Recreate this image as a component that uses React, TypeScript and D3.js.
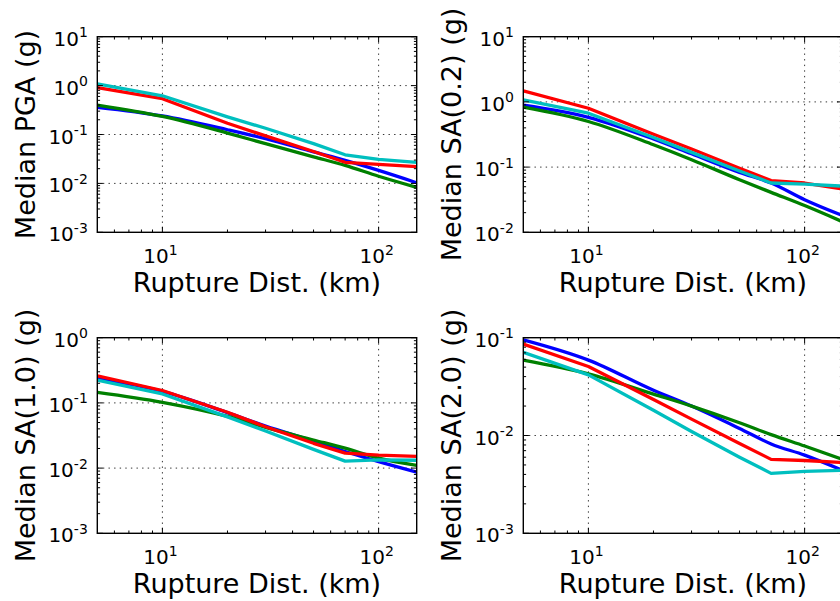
import React from "react";
import * as d3 from "d3";

// Rupture distances (km) at which the medians were read
const DIST = [5, 10, 20, 30, 50, 70, 100, 150];

// Median PGA (g)
const pgaBlue = [0.36, 0.24, 0.125, 0.082, 0.044, 0.0295, 0.0184, 0.0103];
const pgaGreen = [0.4, 0.234, 0.107, 0.065, 0.035, 0.0234, 0.014, 0.0083];
const pgaRed = [0.91, 0.54, 0.17, 0.094, 0.045, 0.027, 0.0245, 0.022];
const pgaCyan = [1.08, 0.62, 0.23, 0.134, 0.065, 0.0385, 0.031, 0.027];

// Median SA(0.2) (g)
const sa02Blue = [0.89, 0.58, 0.27, 0.16, 0.083, 0.057, 0.0316, 0.018];
const sa02Green = [0.83, 0.5, 0.22, 0.13, 0.064, 0.041, 0.0257, 0.0145];
const sa02Red = [1.48, 0.8, 0.32, 0.19, 0.096, 0.062, 0.057, 0.046];
const sa02Cyan = [1.07, 0.67, 0.285, 0.168, 0.087, 0.057, 0.055, 0.051];

// Median SA(1.0) (g)
const sa10Blue = [0.24, 0.15, 0.071, 0.044, 0.026, 0.018, 0.0126, 0.0087];
const sa10Green = [0.145, 0.102, 0.062, 0.042, 0.027, 0.0202, 0.0142, 0.011];
const sa10Red = [0.26, 0.155, 0.072, 0.043, 0.024, 0.017, 0.0158, 0.0151];
const sa10Cyan = [0.224, 0.137, 0.061, 0.037, 0.0194, 0.0128, 0.0134, 0.0132];

// Median SA(2.0) (g)
const sa20Blue = [0.095, 0.059, 0.029, 0.02, 0.0118, 0.0082, 0.0063, 0.0044];
const sa20Green = [0.059, 0.0427, 0.0265, 0.02, 0.0135, 0.0102, 0.0078, 0.0057];
const sa20Red = [0.086, 0.0507, 0.0233, 0.0147, 0.0083, 0.0057, 0.00555, 0.0053];
const sa20Cyan = [0.071, 0.0417, 0.0181, 0.011, 0.006, 0.0041, 0.0043, 0.0044];

const Y_LABELS = ["Median PGA (g)", "Median SA(0.2) (g)", "Median SA(1.0) (g)", "Median SA(2.0) (g)"];
const X_LABEL = "Rupture Dist. (km)";
const Y_DOMAINS = [
  [1e-3, 1e1],
  [1e-2, 1e1],
  [1e-3, 1e0],
  [1e-3, 1e-1],
];
const X_DOMAIN = [5, 150];
const COLORS = ["#0000ff", "#008000", "#ff0000", "#00bfbf"];
const SMOOTH = [true, true, false, false];
const SERIES = [
  [pgaBlue, pgaGreen, pgaRed, pgaCyan],
  [sa02Blue, sa02Green, sa02Red, sa02Cyan],
  [sa10Blue, sa10Green, sa10Red, sa10Cyan],
  [sa20Blue, sa20Green, sa20Red, sa20Cyan],
];

const W = 840;
const H = 601;
const COLS = [
  { left: 97.3, right: 416.7 },
  { left: 523.3, right: 842.7 },
];
const ROWS = [
  { top: 36.7, bottom: 232.3 },
  { top: 337.7, bottom: 533.3 },
];
const FONT = "'DejaVu Sans', sans-serif";

const isMajor = (t: number) => Math.abs(Math.log10(t) - Math.round(Math.log10(t))) < 1e-9;

function Pow({ exp, x, y, anchor }: { exp: number; x: number; y: number; anchor: string }) {
  return (
    <text x={x} y={y} textAnchor={anchor} fontFamily={FONT} fontSize={20} fill="#000">
      <tspan>10</tspan>
      <tspan dy={-8.5} fontSize={14}>
        {String(exp)}
      </tspan>
    </text>
  );
}

function Panel({ idx }: { idx: number }) {
  const col = COLS[idx % 2];
  const row = ROWS[Math.floor(idx / 2)];
  const { left, right } = col;
  const { top, bottom } = row;
  const x = d3.scaleLog().domain(X_DOMAIN).range([left, right]);
  const y = d3.scaleLog().domain(Y_DOMAINS[idx]).range([bottom, top]);
  const eps = 0.5;
  const xTicks = x.ticks().filter((t) => x(t) > left + eps && x(t) < right - eps);
  const yTicks = y.ticks().filter((t) => y(t) >= top - eps && y(t) <= bottom + eps);
  const mkLine = (smooth: boolean) =>
    d3
      .line<number>()
      .x((_, i) => x(DIST[i]))
      .y((v) => y(v))
      .curve(smooth ? d3.curveMonotoneX : d3.curveLinear);
  const clipId = `clip${idx}`;
  const majLen = 5.6;
  const minLen = 2.8;
  return (
    <g>
      <defs>
        <clipPath id={clipId}>
          <rect x={left} y={top} width={right - left} height={bottom - top} />
        </clipPath>
      </defs>
      <rect x={left} y={top} width={right - left} height={bottom - top} fill="#fff" />
      {/* grid */}
      <g stroke="#000" strokeWidth={0.8} strokeDasharray="1.4 4.2" fill="none">
        {xTicks.filter(isMajor).map((t) => (
          <line key={"gx" + t} x1={x(t)} x2={x(t)} y1={top} y2={bottom} />
        ))}
        {yTicks
          .filter(isMajor)
          .filter((t) => y(t) > top + 1 && y(t) < bottom - 1)
          .map((t) => (
            <line key={"gy" + t} x1={left} x2={right} y1={y(t)} y2={y(t)} />
          ))}
      </g>
      {/* series */}
      <g clipPath={`url(#${clipId})`} fill="none" strokeWidth={3.3} strokeLinejoin="round">
        {SERIES[idx].map((vals, i) => (
          <path key={i} d={mkLine(SMOOTH[i])(vals) || ""} stroke={COLORS[i]} />
        ))}
      </g>
      {/* ticks */}
      <g stroke="#000" strokeWidth={1}>
        {xTicks.map((t) => {
          const L = isMajor(t) ? majLen : minLen;
          return (
            <g key={"tx" + t}>
              <line x1={x(t)} x2={x(t)} y1={bottom} y2={bottom - L} />
              <line x1={x(t)} x2={x(t)} y1={top} y2={top + L} />
            </g>
          );
        })}
        {yTicks.map((t) => {
          const L = isMajor(t) ? majLen : minLen;
          return (
            <g key={"ty" + t}>
              <line x1={left} x2={left + L} y1={y(t)} y2={y(t)} />
              <line x1={right} x2={right - L} y1={y(t)} y2={y(t)} />
            </g>
          );
        })}
      </g>
      <rect x={left} y={top} width={right - left} height={bottom - top} fill="none" stroke="#000" strokeWidth={1.4} />
      {/* tick labels */}
      {xTicks.filter(isMajor).map((t) => (
        <Pow key={"lx" + t} exp={Math.round(Math.log10(t))} x={x(t) - 2} y={bottom + 31} anchor="middle" />
      ))}
      {yTicks.filter(isMajor).map((t) => (
        <Pow key={"ly" + t} exp={Math.round(Math.log10(t))} x={left - 9.5} y={y(t) + 9} anchor="end" />
      ))}
      {/* axis labels */}
      <text
        x={(left + right) / 2}
        y={bottom + 59.5}
        textAnchor="middle"
        fontFamily={FONT}
        fontSize={27}
        fill="#000"
      >
        {X_LABEL}
      </text>
      <text
        transform={`translate(${left - 62},${(top + bottom) / 2}) rotate(-90)`}
        textAnchor="middle"
        fontFamily={FONT}
        fontSize={27}
        fill="#000"
      >
        {Y_LABELS[idx]}
      </text>
    </g>
  );
}

export default function App() {
  return (
    <svg
      width={W}
      height={H}
      viewBox={`0 0 ${W} ${H}`}
      style={{ position: "absolute", left: 0, top: 0, background: "#fff" }}
    >
      <rect x={0} y={0} width={W} height={H} fill="#fff" />
      {[0, 1, 2, 3].map((i) => (
        <Panel key={i} idx={i} />
      ))}
    </svg>
  );
}
